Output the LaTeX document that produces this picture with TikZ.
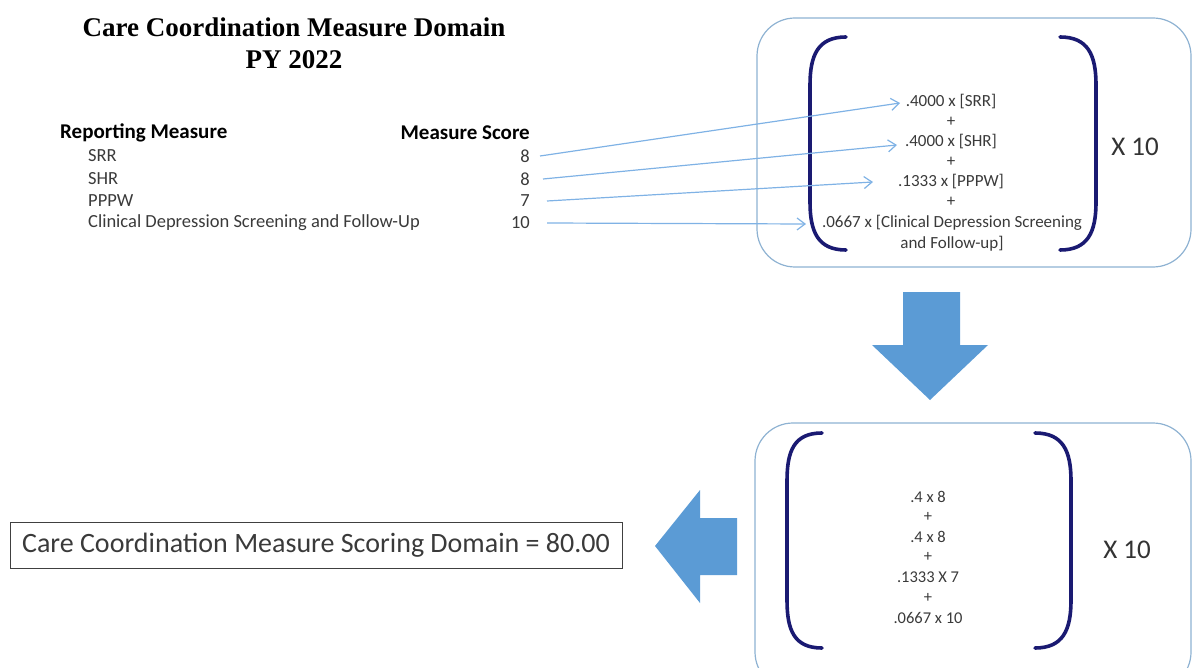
\documentclass[tikz,border=0pt]{standalone}
\usepackage{fontspec}
\setmainfont{Carlito}
\newfontfamily\titlefont{Liberation Serif}
\usetikzlibrary{arrows.meta}
\definecolor{thinblue}{HTML}{7FB2E5}
\definecolor{boxline}{HTML}{8EB2D2}
\definecolor{blockblue}{HTML}{5B9BD5}
\definecolor{navy}{HTML}{1A1A72}
\definecolor{txt}{HTML}{3A3A3A}
\tikzset{
  lbl/.style={inner sep=0pt, text=txt, font=\fontsize{18.5}{19}\selectfont},
  hdr/.style={inner sep=0pt, text=black, font=\bfseries\fontsize{21}{22}\selectfont},
  frm/.style={inner sep=0pt, text=txt, font=\fontsize{17}{18}\selectfont},
  frmb/.style={inner sep=0pt, text=txt, font=\fontsize{16.5}{18}\selectfont},
  times/.style={inner sep=0pt, text=black!80, font=\fontsize{27}{28}\selectfont},
  feed/.style={draw=thinblue, line width=1.2pt, -{Straight Barb[length=8pt,width=12pt]}},
  roundbox/.style={draw=boxline, line width=1.2pt, rounded corners=38pt},
  paren/.style={draw=navy, line width=3.6pt, line cap=round},
  block/.style={fill=blockblue, draw=none}
}
\begin{document}
\begin{tikzpicture}[x=1pt,y=-1pt]
\useasboundingbox (0,0) rectangle (1193,668);
% title
\node[inner sep=0pt, font=\titlefont\bfseries\fontsize{27}{28}\selectfont] (t1) at (294,27) {Care Coordination Measure Domain};
\node[inner sep=0pt, font=\titlefont\bfseries\fontsize{27}{28}\selectfont] (t2) at (294,60) {PY 2022};
% headers
\node[hdr, anchor=west] (h1) at (60,133) {Reporting Measure};
\node[hdr, anchor=east] (h2) at (530,133) {Measure Score};
% rows
\node[lbl, anchor=west] (r1) at (88,156) {SRR};
\node[lbl, anchor=west] (r2) at (88,179) {SHR};
\node[lbl, anchor=west] (r3) at (88,201) {PPPW};
\node[lbl, anchor=west] (r4) at (88,223) {Clinical Depression Screening and Follow-Up};
\node[lbl, anchor=east] (s1) at (530,156) {8};
\node[lbl, anchor=east] (s2) at (530,179) {8};
\node[lbl, anchor=east] (s3) at (530,201) {7};
\node[lbl, anchor=east] (s4) at (530,223) {10};
% top box
\draw[roundbox] (757,18) rectangle (1191,267);
\draw[paren] (846,37) .. controls (818,37) and (810,55) .. (810,85) -- (810,202) .. controls (810,232) and (818,250) .. (846,250);
\draw[paren] (1060,37) .. controls (1088,37) and (1096,55) .. (1096,85) -- (1096,202) .. controls (1096,232) and (1088,250) .. (1060,250);
\node[frm] (f1) at (951,102) {.4000 x [SRR]};
\node[frm] (p1) at (951,122) {+};
\node[frm] (f2) at (951,142) {.4000 x [SHR]};
\node[frm] (p2) at (951,162) {+};
\node[frm] (f3) at (951,182) {.1333 x [PPPW]};
\node[frm] (p3) at (951,202) {+};
\node[frm] (f4) at (952,223) {.0667 x [Clinical Depression Screening};
\node[frm] (f5) at (952,244) {and Follow-up]};
\node[times] (x1) at (1135,147) {X 10};
% feed arrows
\coordinate (e1) at (900,103);
\coordinate (e2) at (897,145);
\coordinate (e3) at (873,182);
\coordinate (e4) at (806,224);
\draw[feed] ([xshift=10pt]s1.east) -- (e1);
\draw[feed] ([xshift=13pt]s2.east) -- (e2);
\draw[feed] ([xshift=17pt]s3.east) -- (e3);
\draw[feed] ([xshift=17pt]s4.east) -- (e4);
% down arrow
\fill[block] (903,292) -- (960,292) -- (960,345) -- (988,345) -- (930,400) -- (872,345) -- (903,345) -- cycle;
% bottom box
\draw[roundbox] (755,423) -- (1191,423) -- (1191,690) -- (755,690) -- cycle;
\draw[paren] (822,433) .. controls (794,433) and (787,451) .. (787,481) -- (787,600) .. controls (787,630) and (794,648) .. (822,648);
\draw[paren] (1035,433) .. controls (1063,433) and (1071,451) .. (1071,481) -- (1071,600) .. controls (1071,630) and (1063,648) .. (1035,648);
\node[frmb] (g1) at (928,497) {.4 x 8};
\node[frmb] (q1) at (928,517) {+};
\node[frmb] (g2) at (928,537) {.4 x 8};
\node[frmb] (q2) at (928,557) {+};
\node[frmb] (g3) at (928,577) {.1333 X 7};
\node[frmb] (q3) at (928,598) {+};
\node[frmb] (g4) at (928,618) {.0667 x 10};
\node[times] (x2) at (1127,550) {X 10};
% left arrow
\fill[block] (737,518) -- (700,518) -- (700,490) -- (655,546) -- (700,603) -- (700,575) -- (737,575) -- cycle;
% result
\node[draw=black!75, line width=0.9pt, minimum width=612pt, minimum height=46pt, inner sep=0pt, text=txt, font=\fontsize{28}{30}\selectfont] (res) at (316,545) {Care Coordination Measure Scoring Domain = 80.00};
\end{tikzpicture}
\end{document}
